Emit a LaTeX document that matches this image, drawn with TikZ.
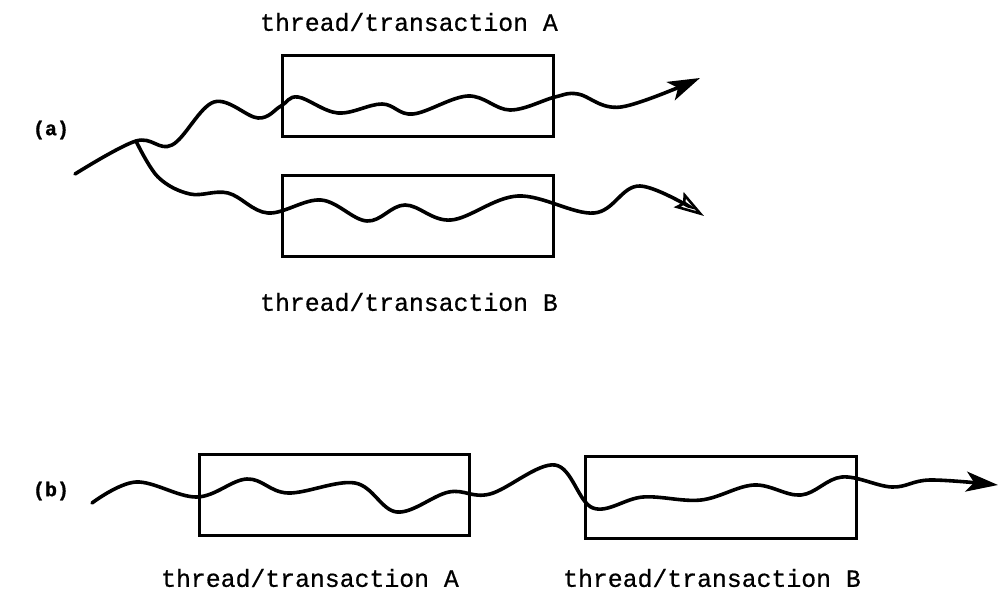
\documentclass[tikz,border=0pt]{standalone}
\usepackage{fontspec}
\newfontfamily\lblfont[FakeBold=0.6]{Liberation Mono}
\newfontfamily\tagfont[FakeBold=1]{Liberation Mono Bold}
\usetikzlibrary{arrows.meta}
\tikzset{
  box/.style={draw, line width=3pt, inner sep=0pt, minimum width=271pt, minimum height=81pt},
  lbl/.style={font=\lblfont\fontsize{24.8}{28}\selectfont, inner sep=0pt},
  tag/.style={font=\tagfont\fontsize{20}{22}\selectfont, inner sep=0pt},
  wave/.style={line width=3.6pt, line cap=round},
  filledtip/.style={-{Stealth[length=32pt,width=20pt,inset=8pt]}},
  opentip/.style={-{Stealth[open,length=30pt,width=18pt,inset=5pt,line width=2.6pt]}},
}
\begin{document}
\begin{tikzpicture}[x=1pt,y=-1pt]
\useasboundingbox (0,0) rectangle (999,594);
% (a)
\node[box] (boxAa) at (418,96) {};
\node[box] (boxBa) at (418,215.5) {};
\node[lbl] (lblAa) at (409,22) {thread/transaction A};
\node[lbl] (lblBa) at (409,302) {thread/transaction B};
\node[tag] (taga) at (51,130) {(a)};
\coordinate (fork) at (136,141);
\draw[wave, filledtip] plot[smooth, tension=0.6] coordinates {
  (75,174) (fork) (172,145) (214,102) (258,118) (281,106) (298,97) (338,113)
  (382,104) (413,114) (468,96) (510,110) (555,97) (578,94) (621,107) (700,78)};
\draw[wave, opentip] plot[smooth, tension=0.6] coordinates {
  (fork) (158,177) (190,194) (228,193) (268,213) (321,200) (367,221) (405,205)
  (451,220) (518,196) (594,213) (640,186) (704,216)};
% (b)
\node[box, minimum width=270pt] (boxAb) at (334,494.5) {};
\node[box, minimum width=271pt, minimum height=82pt] (boxBb) at (721,497.5) {};
\node[lbl] (lblAb) at (310,578) {thread/transaction A};
\node[lbl] (lblBb) at (712,578) {thread/transaction B};
\node[tag] (tagb) at (51,491) {(b)};
\draw[wave, filledtip] plot[smooth, tension=0.6] coordinates {
  (92,503) (136,482) (197,497) (247,479) (288,493) (355,483) (397,512) (449,492)
  (490,494) (555,465) (593,508) (643,497) (701,500) (754,485) (801,495) (842,477)
  (892,487) (930,480) (998,485)};
\end{tikzpicture}
\end{document}
